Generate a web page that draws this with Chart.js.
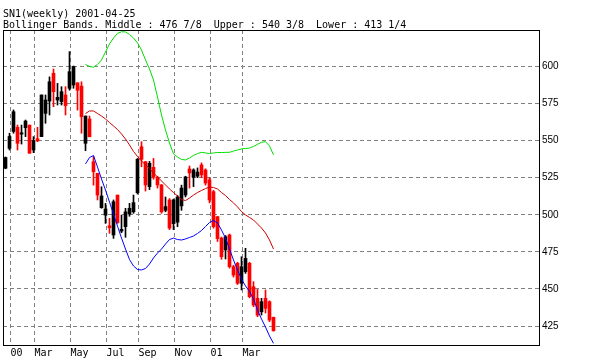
<!DOCTYPE html>
<html>
  <head>
    <title>SN1 weekly</title>
    <script src="https://cdn.jsdelivr.net/npm/chart.js"></script>
    <style>
      body { margin: 0; background: #fff; }
    </style>
  </head>
  <body>
    <canvas id="chart" width="600" height="360"></canvas>

    <script>
      // weekly candles, index 0 = first week shown
      const open = [531.4, 544.8, 556.2, 559.0, 554.4, 558.7, 560.5, 543.7, 551.3, 552.7,
        568.4, 576.7, 595.4, 577.4, 576.3, 580.8, 585.3, 587.5, 589.0, 586.8,
        548.2, 564.6, 535.8, 528.0, 504.8, 499.8, 492.6, 486.4, 513.3, 489.0,
        492.0, 500.5, 502.0, 514.9, 545.9, 535.8, 519.0, 532.0, 525.3, 520.1,
        503.0, 510.0, 494.0, 495.0, 506.0, 513.3, 530.9, 525.3, 526.0, 533.6,
        530.2, 523.5, 515.6, 498.7, 484.3, 476.3, 486.4, 465.0, 467.3, 453.8,
        461.6, 467.3, 451.5, 443.7, 434.6, 443.7, 441.4, 430.9];
      const high = [539.0, 555.0, 570.7, 560.5, 560.5, 563.9, 560.5, 552.7, 559.0, 580.8,
        580.8, 593.0, 598.3, 588.6, 586.4, 586.4, 610.0, 600.3, 589.0, 589.7,
        566.6, 566.6, 539.2, 528.0, 518.9, 507.7, 497.6, 510.0, 513.3, 499.8,
        504.4, 507.7, 513.3, 538.0, 549.3, 536.0, 536.0, 538.0, 526.0, 520.5,
        512.0, 511.0, 510.6, 513.0, 520.0, 526.0, 532.9, 531.0, 531.6, 535.0,
        531.0, 525.0, 516.5, 499.0, 485.0, 486.0, 487.0, 466.0, 468.0, 471.7,
        477.4, 468.0, 454.9, 449.7, 443.7, 449.3, 442.0, 431.0];
      const low = [531.0, 543.7, 555.0, 543.7, 547.7, 552.7, 541.5, 541.9, 549.3, 552.7,
        561.7, 567.3, 572.9, 574.0, 574.0, 567.3, 584.0, 585.3, 570.6, 555.0,
        543.2, 552.6, 520.0, 510.0, 504.4, 494.2, 487.5, 484.1, 494.2, 487.9,
        484.8, 499.0, 501.0, 514.0, 532.4, 516.0, 517.0, 524.0, 518.0, 501.0,
        502.0, 490.0, 490.0, 492.0, 503.0, 512.0, 518.0, 519.0, 525.0, 525.0,
        520.0, 508.0, 491.0, 482.0, 470.0, 470.2, 464.0, 458.0, 453.0, 449.3,
        460.5, 444.0, 438.0, 431.3, 432.4, 433.8, 428.0, 421.5];
      const close = [538.6, 552.8, 569.5, 548.2, 555.3, 563.2, 541.5, 550.0, 549.8, 580.8,
        577.4, 589.7, 583.0, 579.2, 583.0, 573.6, 596.5, 600.0, 584.0, 566.1,
        566.6, 552.6, 529.0, 513.3, 512.7, 503.9, 491.3, 508.8, 494.7, 490.2,
        502.0, 504.4, 508.2, 537.4, 537.4, 520.1, 534.7, 525.3, 520.1, 502.0,
        505.5, 491.0, 510.0, 512.0, 518.0, 525.5, 528.2, 530.2, 528.8, 526.9,
        521.4, 510.0, 492.0, 484.0, 471.7, 485.2, 465.0, 459.4, 453.8, 465.0,
        470.6, 444.8, 439.2, 432.4, 441.4, 436.9, 429.0, 421.8];

      // 20 week bollinger bands, first value at candle 20
      const bandStart = 20;
      const upper = [601.4, 600.0, 599.5, 601.4, 604.4, 609.8, 615.2, 619.2, 622.3, 623.4,
        623.3, 621.6, 619.2, 615.9, 611.1, 604.4, 598.3, 590.9, 579.4, 567.3,
        557.2, 548.4, 541.0, 539.0, 537.3, 537.0, 538.3, 540.0, 541.3, 542.1,
        541.7, 541.3, 541.7, 542.0, 542.0, 542.1, 542.1, 543.0, 543.7, 544.4,
        544.7, 545.0, 546.1, 547.5, 548.9, 549.3, 546.4, 540.4];
      const middle = [568.3, 570.0, 570.0, 568.3, 566.6, 564.6, 562.2, 559.9, 557.5, 554.5,
        551.1, 547.1, 542.7, 539.3, 536.3, 533.6, 531.2, 528.2, 525.5, 522.8,
        520.1, 517.4, 515.0, 512.7, 510.3, 509.6, 511.3, 513.3, 515.0, 516.4,
        517.7, 518.7, 518.4, 517.4, 515.0, 513.0, 510.3, 508.0, 505.3, 502.2,
        499.9, 498.2, 496.5, 493.8, 491.1, 487.7, 483.0, 476.9];
      const lower = [534.3, 538.6, 540.0, 532.2, 524.1, 516.7, 508.6, 500.5, 492.4, 484.3,
        476.9, 469.8, 465.5, 463.1, 462.8, 463.8, 466.8, 470.9, 474.2, 476.9,
        480.3, 483.3, 484.3, 483.3, 483.0, 483.7, 484.7, 485.7, 487.4, 489.4,
        492.1, 494.8, 496.1, 494.5, 489.7, 484.3, 476.9, 469.5, 462.8, 456.7,
        452.0, 448.3, 443.2, 435.8, 429.7, 424.3, 418.3, 413.3];

      // first candle of each labelled month
      const xTickIdx = [1, 7, 16, 25, 33, 42, 51, 59];
      const xTickLabels = ["00", "Mar", "May", "Jul", "Sep", "Nov", "01", "Mar"];
      const yTicks = [425, 450, 475, 500, 525, 550, 575, 600];

      const titleLines = [
        "SN1(weekly) 2001-04-25",
        "Bollinger Bands. Middle : 476 7/8  Upper : 540 3/8  Lower : 413 1/4",
      ];

      const candleColor = open.map((o, i) => (close[i] < o ? "#ff0000" : "#000000"));
      const bodies = open.map((o, i) => ({ x: i, y: [o, close[i]] }));
      const wicks = open.map((o, i) => ({ x: i, y: [low[i], high[i]] }));
      const band = (arr) => arr.map((v, k) => ({ x: bandStart + k, y: v }));
      // grid line sits one pixel right of the candle centre
      const gridShift = 0.25;

      const frame = {
        id: "frame",
        afterDraw(chart) {
          const c = chart.ctx;
          const a = chart.chartArea;
          c.save();
          c.strokeStyle = "#000";
          c.lineWidth = 1;
          c.strokeRect(a.left + 0.5, a.top + 0.5, a.right - a.left - 1, a.bottom - a.top);
          c.fillStyle = "#000";
          c.font = '10px "DejaVu Sans Mono"';
          c.textBaseline = "alphabetic";
          c.fillText(titleLines[0], 3, 17);
          c.fillText(titleLines[1], 3, 28);
          c.restore();
        },
      };

      const ctx = document.getElementById("chart").getContext("2d");
      new Chart(ctx, {
        type: "bar",
        data: {
          datasets: [
            {
              label: "wick",
              data: wicks,
              backgroundColor: candleColor,
              barThickness: 1,
              grouped: false,
              order: 2,
            },
            {
              label: "body",
              data: bodies,
              backgroundColor: candleColor,
              barThickness: 3,
              minBarLength: 1,
              grouped: false,
              order: 1,
            },
            {
              type: "line",
              label: "upper",
              data: band(upper),
              borderColor: "#00dd00",
              borderWidth: 1,
              pointRadius: 0,
              order: 0,
            },
            {
              type: "line",
              label: "middle",
              data: band(middle),
              borderColor: "#cc0000",
              borderWidth: 1,
              pointRadius: 0,
              order: 0,
            },
            {
              type: "line",
              label: "lower",
              data: band(lower),
              borderColor: "#0000ff",
              borderWidth: 1,
              pointRadius: 0,
              order: 0,
            },
          ],
        },
        options: {
          responsive: false,
          animation: false,
          layout: { padding: { left: 3, top: 30, right: 0, bottom: 0 } },
          plugins: { legend: { display: false }, tooltip: { enabled: false } },
          scales: {
            x: {
              type: "linear",
              offset: false,
              min: -0.625,
              max: 133.625,
              afterBuildTicks: (s) => {
                s.ticks = xTickIdx.map((v) => ({ value: v + gridShift }));
              },
              afterFit: (s) => {
                s.height = 15;
              },
              grid: { color: "#808080", drawTicks: false, offset: false },
              border: { display: false, dash: [4, 3] },
              ticks: {
                align: "start",
                padding: 2,
                color: "#000",
                font: { family: "DejaVu Sans Mono", size: 10 },
                callback: (v) => xTickLabels[xTickIdx.indexOf(v - gridShift)],
              },
            },
            y: {
              position: "right",
              min: 412.2,
              max: 624.6,
              afterBuildTicks: (s) => {
                s.ticks = yTicks.map((v) => ({ value: v }));
              },
              afterFit: (s) => {
                s.width = 60;
              },
              grid: { color: "#808080", drawTicks: false },
              border: { display: false, dash: [4, 3] },
              ticks: {
                padding: 2,
                color: "#000",
                font: { family: "Liberation Sans", size: 10 },
              },
            },
          },
        },
        plugins: [frame],
      });
    </script>
  </body>
</html>
